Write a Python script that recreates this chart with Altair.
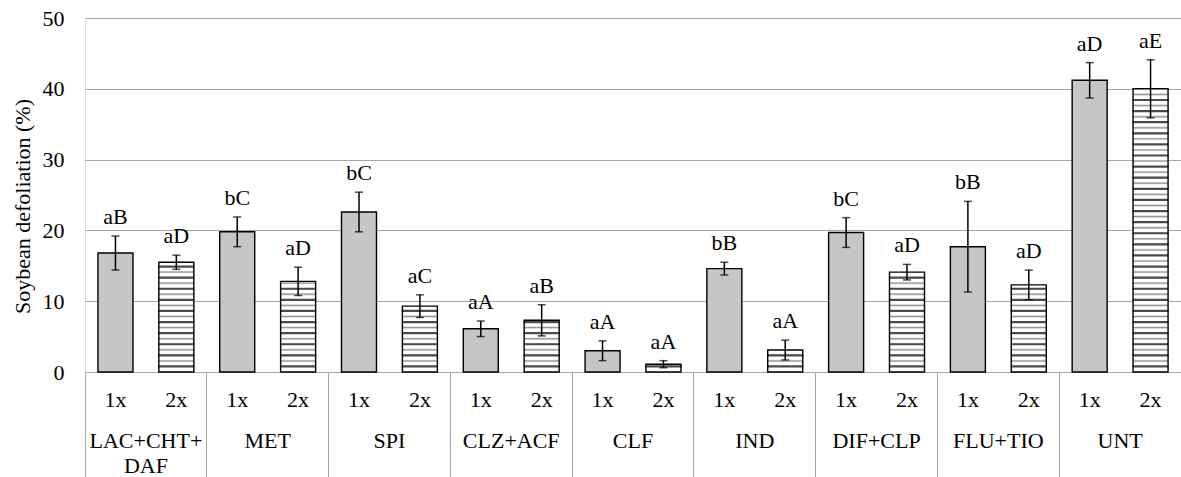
import altair as alt
import pandas as pd

groups = ["LAC+CHT+\nDAF", "MET", "SPI", "CLZ+ACF", "CLF", "IND", "DIF+CLP", "FLU+TIO", "UNT"]
doses = ["1x", "2x"]
mean_1x = [16.8, 19.8, 22.6, 6.1, 3.0, 14.6, 19.7, 17.7, 41.2]
err_1x = [2.4, 2.1, 2.8, 1.1, 1.4, 0.9, 2.1, 6.4, 2.5]
mean_2x = [15.5, 12.8, 9.3, 7.3, 1.1, 3.1, 14.1, 12.3, 40.0]
err_2x = [1.0, 2.0, 1.6, 2.2, 0.5, 1.4, 1.1, 2.1, 4.1]
letters_1x = ["aB", "bC", "bC", "aA", "aA", "bB", "bC", "bB", "aD"]
letters_2x = ["aD", "aD", "aC", "aB", "aA", "aA", "aD", "aD", "aE"]
y_ticks = [0, 10, 20, 30, 40, 50]

rows = []
for i, g in enumerate(groups):
    rows.append(dict(group=g, dose="1x", value=mean_1x[i], err=err_1x[i], letter=letters_1x[i]))
    rows.append(dict(group=g, dose="2x", value=mean_2x[i], err=err_2x[i], letter=letters_2x[i]))
df = pd.DataFrame(rows)
df["lower"] = df["value"] - df["err"]
df["upper"] = df["value"] + df["err"]

# horizontal hatching for the 2x bars (decoration only)
step = 0.784
srows = []
for i, g in enumerate(groups):
    k = 1
    while k * step < mean_2x[i] - 0.15:
        srows.append(dict(group=g, dose="2x", sy=k * step, dark=("d" if k % 2 == 1 else "l")))
        k += 1
sdf = pd.DataFrame(srows)

FONT = "Liberation Serif, Times New Roman, serif"
GRAY = "#a6a6a6"

x_enc = alt.X("group:N", sort=groups, title=None,
              scale=alt.Scale(paddingInner=0, paddingOuter=0),
              axis=alt.Axis(labels=False, ticks=True, bandPosition=0, tickSize=105,
                            tickColor=GRAY, tickWidth=1, domainColor=GRAY, domainWidth=1,
                            grid=False, title=None))
xo_enc = alt.XOffset("dose:N", sort=doses,
                     scale=alt.Scale(paddingInner=0.425, paddingOuter=0.2125))
y_scale = alt.Scale(domain=[0, 50], nice=False, zero=True)
y_axis = alt.Axis(values=y_ticks, grid=True, gridColor=GRAY, gridWidth=1, ticks=False,
                  domain=False, labelPadding=21, labelFont=FONT, labelFontSize=22,
                  labelColor="black", title="Soybean defoliation (%)", titleFont=FONT,
                  titleFontSize=22, titleFontWeight="normal", titleColor="black",
                  titleX=-63, titleY=188, titleAngle=270, titleAlign="center",
                  titleBaseline="middle")


def ye(field):
    return alt.Y(field, type="quantitative", scale=y_scale, axis=y_axis,
                 title="Soybean defoliation (%)")


base = alt.Chart(df)

bars = base.mark_bar(strokeWidth=0).encode(
    x=x_enc, xOffset=xo_enc, y=ye("value"),
    color=alt.Color("dose:N", sort=doses,
                    scale=alt.Scale(domain=doses, range=["#c6c6c6", "#ffffff"]),
                    legend=None),
)

stripes = alt.Chart(sdf).mark_tick(orient="horizontal", size=35).encode(
    x=x_enc, xOffset=xo_enc, y=ye("sy"),
    stroke=alt.Stroke("dark:N", scale=alt.Scale(domain=["d", "l"], range=["#000000", "#9a9a9a"]),
                      legend=None),
    strokeWidth=alt.StrokeWidth("dark:N", scale=alt.Scale(domain=["d", "l"], range=[1.2, 0.9]),
                                legend=None),
    color=alt.value("#000000"),
)

outline = base.mark_bar(fillOpacity=0, stroke="black", strokeWidth=1.4).encode(
    x=x_enc, xOffset=xo_enc, y=ye("value"),
)

err_rule = base.mark_rule(color="black", strokeWidth=1.5).encode(
    x=x_enc, xOffset=xo_enc, y=ye("lower"), y2="upper",
)
cap_top = base.mark_tick(orient="horizontal", size=8, thickness=1.5, color="black").encode(
    x=x_enc, xOffset=xo_enc, y=ye("upper"),
)
cap_bot = base.mark_tick(orient="horizontal", size=8, thickness=1.5, color="black").encode(
    x=x_enc, xOffset=xo_enc, y=ye("lower"),
)

letters = base.mark_text(font=FONT, fontSize=22, baseline="alphabetic", dy=-12,
                         color="black").encode(
    x=x_enc, xOffset=xo_enc, y=ye("upper"), text="letter:N",
)

dose_labels = base.mark_text(font=FONT, fontSize=22, baseline="alphabetic",
                             color="black").encode(
    x=x_enc, xOffset=xo_enc, y=alt.value(389), text="dose:N",
)

gdf = pd.DataFrame({"group": groups})
group_labels = alt.Chart(gdf).mark_text(font=FONT, fontSize=22, baseline="top",
                                        lineBreak="\n", lineHeight=25,
                                        color="black").encode(
    x=x_enc, y=alt.value(413), text="group:N",
)

chart = alt.layer(
    bars, stripes, outline, err_rule, cap_top, cap_bot, letters, dose_labels, group_labels
).properties(
    width=1096, height=354,
    padding={"left": 85, "top": 18, "right": 0, "bottom": 105},
    autosize=alt.AutoSizeParams(type="none"),
).configure_view(stroke=None).configure(font=FONT)

chart.save("out.html", embed_options={"renderer": "svg", "actions": False})
